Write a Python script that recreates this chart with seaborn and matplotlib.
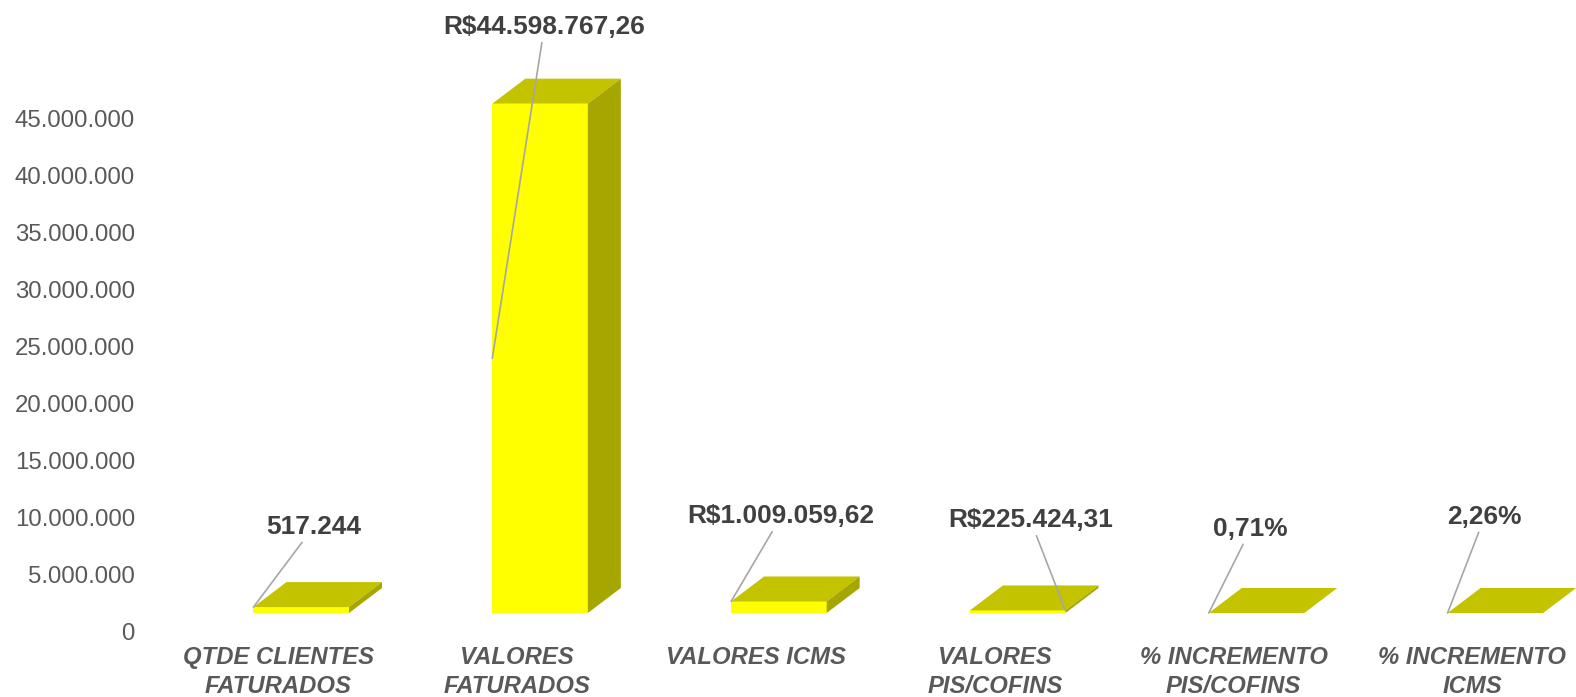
import seaborn as sns
import matplotlib.pyplot as plt
import matplotlib.transforms as mtransforms
from matplotlib.patches import Polygon
from matplotlib.ticker import FuncFormatter

# dados
categorias = ['QTDE CLIENTES\nFATURADOS', 'VALORES\nFATURADOS', 'VALORES ICMS',
              'VALORES\nPIS/COFINS', '% INCREMENTO\nPIS/COFINS', '% INCREMENTO\nICMS']
valores = [517244, 44598767.26, 1009059.62, 225424.31, 0.0071, 0.0226]
rotulos = ['517.244', 'R$44.598.767,26', 'R$1.009.059,62', 'R$225.424,31', '0,71%', '2,26%']
yticks = [0, 5e6, 10e6, 15e6, 20e6, 25e6, 30e6, 35e6, 40e6, 45e6]

sns.set_style('white')
plt.rcParams['font.family'] = ['Liberation Sans', 'DejaVu Sans']

fig = plt.figure(figsize=(15.76, 6.97), dpi=100)
ax = fig.add_axes([146/1576, 84/697, 1421/1576, 571/697])

sns.barplot(x=categorias, y=valores, color='#FFFF00', saturation=1, width=0.4,
            linewidth=0, ax=ax, zorder=2)
ax.set_xlim(-0.65, 5.3)
ax.set_ylim(0, 50e6)
ax.set_yticks(yticks)
ax.yaxis.set_major_formatter(FuncFormatter(lambda v, p: f'{v:,.0f}'.replace(',', '.')))
sns.despine(ax=ax, left=True, bottom=True)
ax.tick_params(axis='y', length=0, pad=8, labelsize=17.3, labelcolor='#595959')
ax.tick_params(axis='x', length=0, pad=24)
ax.set_xticks(range(len(categorias)))
ax.set_xticklabels(categorias, fontsize=17.2, fontweight='bold', fontstyle='italic',
                   color='#595959', linespacing=1.3)

# deslocamento dos rotulos (efeito 3D do Excel)
off_y = mtransforms.ScaledTranslation(0, -0.19, fig.dpi_scale_trans)
for lb in ax.get_yticklabels():
    lb.set_transform(lb.get_transform() + off_y)
off_x = mtransforms.ScaledTranslation(-0.23, 0, fig.dpi_scale_trans)
for lb in ax.get_xticklabels():
    lb.set_transform(lb.get_transform() + off_x)

# faces de topo e lateral
dx, dy = 33, 25
to_px = ax.transData.transform
to_data = ax.transData.inverted().transform
for p in ax.patches:
    x0, x1 = p.get_x(), p.get_x() + p.get_width()
    y0, y1 = p.get_y(), p.get_y() + p.get_height()
    X0, Y0 = to_px((x0, y0))
    X1, Y1 = to_px((x1, y1))
    topo = [(X0, Y1), (X1, Y1), (X1 + dx, Y1 + dy), (X0 + dx, Y1 + dy)]
    lado = [(X1, Y0), (X1, Y1), (X1 + dx, Y1 + dy), (X1 + dx, Y0 + dy)]
    ax.add_patch(Polygon(to_data(topo), closed=True, facecolor='#C3C300',
                         edgecolor='none', clip_on=False, zorder=2))
    ax.add_patch(Polygon(to_data(lado), closed=True, facecolor='#A6A600',
                         edgecolor='none', clip_on=False, zorder=2))

# rotulos de dados com linhas de chamada
desloc = [(60, 80), (52, 331), (50, 85), (-35, 90), (42, 84), (37, 96)]
for i, p in enumerate(ax.patches[:len(valores)]):
    x0 = p.get_x()
    h = p.get_height()
    if i == 1:
        xy = (x0, h / 2)
    elif i == 3:
        xy = (x0 + p.get_width(), h)
    else:
        xy = (x0, h)
    ax.annotate(rotulos[i], xy=xy, xytext=desloc[i], textcoords='offset pixels',
                ha='center', va='center', fontsize=18.9, fontweight='bold', color='#404040',
                arrowprops=dict(arrowstyle='-', color='#A6A6A6', lw=1.2,
                                shrinkA=0, shrinkB=0), zorder=4)

fig.savefig('out.png', dpi=100)
